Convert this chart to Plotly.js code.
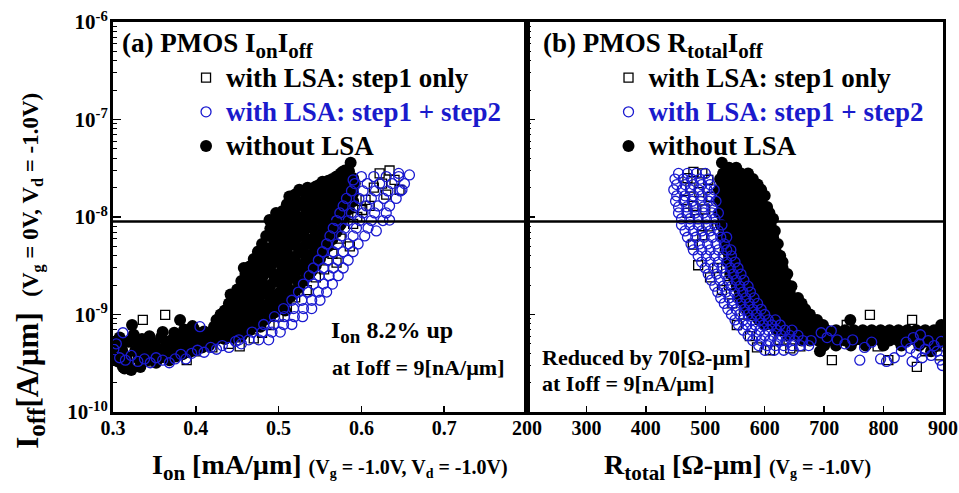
<!DOCTYPE html>
<html>
<head>
<meta charset="utf-8">
<script src="https://cdn.plot.ly/plotly-3.0.1.min.js"></script>
<style>
  html, body { margin: 0; padding: 0; background: #ffffff; }
  #chart { width: 959px; height: 493px; }
</style>
</head>
<body>
<div id="chart"></div>
<script>
// ================= (a) Ion [mA/um] vs Ioff [A/um] =================
// without LSA: low-Ion tail and scattered points, as [Ion, Ioff] pairs
const noLsaTailA = [
  [0.302,4.0e-10],[0.306,3.3e-10],[0.309,4.8e-10],[0.312,2.9e-10],[0.316,3.7e-10],[0.319,5.3e-10],[0.322,2.7e-10],[0.323,7.8e-10],
  [0.327,4.3e-10],[0.331,3.5e-10],[0.335,5.6e-10],[0.338,4.0e-10],[0.342,4.7e-10],[0.346,3.8e-10],[0.350,5.0e-10],[0.354,4.3e-10],
  [0.358,5.8e-10],[0.362,4.6e-10],[0.366,4.0e-10],[0.370,5.4e-10],[0.374,6.5e-10],[0.378,4.8e-10],[0.381,8.8e-10],[0.382,5.6e-10],
  [0.386,4.4e-10],[0.390,5.1e-10],[0.394,6.3e-10],[0.398,7.0e-10],[0.402,4.9e-10],[0.406,5.9e-10],[0.410,6.7e-10],[0.414,5.3e-10],
  [0.418,6.1e-10],[0.422,7.5e-10],[0.304,5.2e-10],[0.311,4.3e-10],[0.318,3.2e-10],[0.326,5.5e-10],[0.334,4.6e-10],[0.341,3.4e-10],
  [0.349,4.0e-10],[0.357,3.6e-10],[0.365,5.2e-10],[0.373,4.2e-10],[0.380,5.6e-10],[0.388,6.0e-10],[0.396,5.4e-10],[0.404,6.2e-10],
  [0.412,5.8e-10],[0.420,6.6e-10],[0.300,3.6e-10],[0.308,5.8e-10],[0.314,2.8e-10],[0.325,6.2e-10],[0.333,2.9e-10],[0.344,6.0e-10],
  [0.352,3.2e-10],[0.360,6.6e-10],[0.368,3.4e-10],[0.376,3.7e-10],[0.384,3.9e-10],[0.392,4.1e-10],[0.400,4.3e-10],[0.408,4.6e-10],
  [0.416,4.8e-10],[0.396,7.6e-10],[0.386,7.0e-10],[0.489,9.3e-9],[0.587,3.6e-8],[0.513,1.62e-8],[0.553,2.3e-8],[0.546,1.95e-8],
  [0.577,2.9e-8],[0.592,2.2e-8],[0.497,1.1e-8],[0.458,3.0e-9],[0.442,1.6e-9],[0.478,7.5e-10],[0.508,1.1e-9],
  [0.462,7.6e-10],[0.463,1.2e-9],[0.461,2.1e-9],[0.473,8.9e-10],[0.471,1.5e-9],[0.474,2.2e-9],[0.472,3.0e-9],[0.483,1.0e-9],
  [0.481,1.9e-9],[0.484,2.9e-9],[0.482,4.5e-9],[0.493,1.2e-9],[0.491,1.6e-9],[0.494,2.6e-9],[0.492,3.8e-9],[0.493,6.2e-9],
  [0.503,1.4e-9],[0.502,2.1e-9],[0.504,3.1e-9],[0.501,4.5e-9],[0.503,6.1e-9],[0.502,9.1e-9],[0.513,1.7e-9],[0.512,2.5e-9],
  [0.514,3.8e-9],[0.511,5.5e-9],[0.513,7.7e-9],[0.512,1.15e-8],[0.523,2.2e-9],[0.521,3.1e-9],[0.524,4.8e-9],[0.522,6.9e-9],
  [0.523,1.0e-8],[0.521,1.45e-8],[0.533,2.7e-9],[0.532,4.1e-9],[0.534,5.8e-9],[0.531,8.5e-9],[0.533,1.22e-8],[0.543,3.4e-9],
  [0.542,5.1e-9],[0.544,7.3e-9],[0.541,1.0e-8],[0.543,1.4e-8],[0.553,4.5e-9],[0.552,6.4e-9],[0.554,8.7e-9],[0.551,1.22e-8],
  [0.553,1.6e-8],[0.563,5.9e-9],[0.562,8.0e-9],[0.564,1.05e-8],[0.561,1.4e-8],[0.563,1.8e-8],[0.573,8.0e-9],[0.572,1.03e-8],
  [0.574,1.3e-8],[0.571,1.65e-8],[0.573,2.05e-8],[0.452,7.2e-10],[0.453,1.15e-9],[0.443,8.8e-10],[0.447,1.3e-9]
];
// without LSA: rising part, each entry is [Ion, [Ioff values read at that Ion]]
const noLsaRiseA = [
  [0.425,[5.6e-10,7.0e-10,8.8e-10]],
  [0.430,[6.2e-10,7.8e-10,1.0e-9]],
  [0.435,[5.6e-10,6.9e-10,8.6e-10,1.1e-9]],
  [0.440,[6.2e-10,7.8e-10,9.8e-10,1.3e-9]],
  [0.445,[5.8e-10,7.0e-10,8.8e-10,1.15e-9,1.55e-9]],
  [0.450,[6.4e-10,7.9e-10,1.0e-9,1.35e-9,1.8e-9]],
  [0.455,[6.0e-10,7.2e-10,9.0e-10,1.2e-9,1.6e-9,2.2e-9]],
  [0.460,[6.6e-10,8.2e-10,1.05e-9,1.4e-9,1.9e-9,2.6e-9]],
  [0.465,[6.9e-10,8.8e-10,1.15e-9,1.6e-9,2.2e-9,3.1e-9]],
  [0.470,[7.5e-10,9.8e-10,1.3e-9,1.8e-9,2.6e-9,3.7e-9]],
  [0.475,[7.8e-10,1.05e-9,1.45e-9,2.05e-9,3.0e-9,4.4e-9]],
  [0.480,[8.4e-10,1.15e-9,1.6e-9,2.35e-9,3.5e-9,5.3e-9]],
  [0.485,[9.0e-10,1.25e-9,1.8e-9,2.7e-9,4.1e-9,6.4e-9]],
  [0.490,[9.6e-10,1.35e-9,2.0e-9,3.1e-9,4.8e-9,7.6e-9]],
  [0.495,[1.05e-9,1.5e-9,2.3e-9,3.6e-9,5.6e-9,9.0e-9]],
  [0.500,[1.15e-9,1.65e-9,2.5e-9,3.6e-9,5.3e-9,7.6e-9,1.05e-8]],
  [0.505,[1.25e-9,1.8e-9,2.7e-9,3.9e-9,5.6e-9,8.0e-9,1.15e-8]],
  [0.510,[1.4e-9,2.0e-9,3.1e-9,4.4e-9,6.6e-9,9.4e-9,1.35e-8]],
  [0.515,[1.55e-9,2.4e-9,3.5e-9,5.2e-9,7.4e-9,1.05e-8,1.55e-8]],
  [0.520,[1.75e-9,2.6e-9,3.9e-9,5.7e-9,8.2e-9,1.2e-8,1.7e-8]],
  [0.525,[1.9e-9,2.9e-9,4.4e-9,6.4e-9,9.3e-9,1.35e-8,1.9e-8]],
  [0.530,[2.2e-9,3.3e-9,4.9e-9,7.1e-9,1.0e-8,1.45e-8,1.85e-8]],
  [0.535,[2.45e-9,3.6e-9,5.4e-9,7.8e-9,1.1e-8,1.5e-8,2.0e-8]],
  [0.540,[2.8e-9,4.1e-9,6.0e-9,8.6e-9,1.2e-8,1.6e-8,1.8e-8]],
  [0.545,[3.2e-9,4.6e-9,6.7e-9,9.5e-9,1.3e-8,1.7e-8,2.05e-8]],
  [0.550,[3.7e-9,5.3e-9,7.4e-9,1.04e-8,1.4e-8,1.8e-8,2.15e-8]],
  [0.555,[4.3e-9,6.0e-9,8.3e-9,1.12e-8,1.5e-8,1.95e-8,2.2e-8]],
  [0.560,[5.0e-9,6.8e-9,9.2e-9,1.22e-8,1.6e-8,2.05e-8,2.35e-8]],
  [0.565,[5.9e-9,7.8e-9,1.02e-8,1.33e-8,1.7e-8,2.15e-8,2.45e-8]],
  [0.570,[7.0e-9,9.0e-9,1.15e-8,1.45e-8,1.85e-8,2.3e-8,2.6e-8]],
  [0.575,[8.4e-9,1.05e-8,1.3e-8,1.6e-8,2.0e-8,2.45e-8,2.8e-8]],
  [0.580,[1.0e-8,1.22e-8,1.5e-8,1.8e-8,2.2e-8,2.7e-8,3.0e-8]],
  [0.585,[1.2e-8,1.45e-8,1.75e-8,2.1e-8,2.5e-8,2.95e-8]],
  [0.590,[1.45e-8,1.75e-8,2.1e-8,2.5e-8]]
];

// with LSA: step1 only, [Ion, Ioff]
const step1A = [
  [0.310,3.5e-10],[0.320,4.2e-10],[0.330,3.8e-10],[0.336,8.8e-10],[0.345,3.3e-10],[0.360,3.6e-10],[0.363,9.9e-10],[0.375,4.0e-10],
  [0.389,3.4e-10],[0.400,4.2e-10],[0.420,4.6e-10],[0.440,5.0e-10],[0.453,4.7e-10],[0.470,5.7e-10],[0.480,6.5e-10],[0.489,7.8e-10],
  [0.500,9.5e-10],[0.510,1.2e-9],[0.520,1.5e-9],[0.534,1.78e-9],[0.545,2.4e-9],[0.555,2.9e-9],[0.565,4.2e-9],[0.570,3.4e-9],
  [0.575,6.0e-9],[0.586,5.0e-9],[0.590,8.5e-9],[0.595,1.0e-8],[0.601,1.18e-8],[0.605,1.5e-8],[0.610,1.3e-8],[0.615,2.0e-8],
  [0.622,2.8e-8],[0.625,2.2e-8],[0.630,1.7e-8],[0.634,3.0e-8],[0.640,2.4e-8],[0.646,1.9e-8]
];

// with LSA: step1 + step2, low-Ion tail and outliers, [Ion, Ioff]
const step12TailA = [
  [0.301,4.4e-10],[0.304,5.0e-10],[0.308,3.6e-10],[0.312,6.5e-10],[0.315,3.4e-10],[0.322,3.8e-10],[0.330,3.3e-10],[0.338,3.5e-10],
  [0.345,3.2e-10],[0.352,3.6e-10],[0.360,3.4e-10],[0.368,3.2e-10],[0.375,3.5e-10],[0.382,3.9e-10],[0.388,3.5e-10],[0.395,4.0e-10],
  [0.402,4.3e-10],[0.405,7.5e-10],[0.410,4.1e-10],[0.418,4.6e-10],[0.425,4.4e-10],[0.432,4.8e-10],[0.440,4.6e-10],[0.448,5.3e-10],
  [0.455,5.0e-10],[0.618,7.2e-9],[0.634,9.3e-9],[0.649,1.9e-8],[0.645,2.8e-8],[0.658,2.7e-8],[0.590,2.4e-8]
];
// with LSA: step1 + step2, rising part, each entry is [Ioff, [Ion values read at that Ioff]]
const step12RiseA = [
  [2.6e-8,[0.600,0.615,0.630,0.645]],
  [2.2e-8,[0.592,0.607,0.622,0.637,0.652]],
  [1.85e-8,[0.588,0.602,0.617,0.632,0.647]],
  [1.55e-8,[0.582,0.597,0.612,0.627,0.642]],
  [1.3e-8,[0.578,0.592,0.606,0.620,0.634]],
  [1.1e-8,[0.574,0.588,0.602,0.616,0.630]],
  [9.2e-9,[0.570,0.584,0.598,0.612,0.626]],
  [7.7e-9,[0.566,0.580,0.594,0.608]],
  [6.4e-9,[0.562,0.576,0.590,0.604]],
  [5.3e-9,[0.558,0.571,0.584,0.596]],
  [4.4e-9,[0.553,0.566,0.578,0.590]],
  [3.6e-9,[0.548,0.560,0.572,0.584]],
  [3.0e-9,[0.542,0.554,0.566,0.578]],
  [2.5e-9,[0.537,0.549,0.561,0.572]],
  [2.05e-9,[0.530,0.542,0.554,0.565]],
  [1.7e-9,[0.524,0.536,0.548,0.558]],
  [1.4e-9,[0.516,0.528,0.540,0.550]],
  [1.15e-9,[0.506,0.518,0.530,0.540]],
  [9.5e-10,[0.495,0.507,0.519,0.529]],
  [7.9e-10,[0.482,0.494,0.506,0.516]],
  [6.6e-10,[0.468,0.480,0.492,0.502]],
  [5.5e-10,[0.452,0.464,0.476,0.488]]
];

// ================= (b) Rtotal [ohm-um] vs Ioff [A/um] =================
// without LSA, each entry is [Ioff, [Rtotal values read at that Ioff]]
const noLsaRowsB = [
  [3.6e-8,[528]],
  [3.2e-8,[540,552]],
  [2.8e-8,[530,545,560,572]],
  [2.45e-8,[525,538,552,566,580]],
  [2.15e-8,[530,545,559,573,588]],
  [1.9e-8,[523,537,551,565,579,594]],
  [1.65e-8,[530,544,558,572,586,600]],
  [1.45e-8,[524,538,552,566,580,594]],
  [1.27e-8,[530,545,560,575,590,604]],
  [1.1e-8,[524,538,552,566,580,595,608]],
  [9.6e-9,[530,545,560,575,590,605,614]],
  [8.3e-9,[526,540,554,568,582,596,610]],
  [7.2e-9,[532,547,562,577,592,606,617]],
  [6.2e-9,[530,544,558,572,586,600,614]],
  [5.3e-9,[536,550,565,580,595,610,622]],
  [4.6e-9,[534,548,562,576,590,604,618]],
  [4.0e-9,[540,554,568,582,596,611,626]],
  [3.45e-9,[538,552,566,580,594,608,622,630]],
  [3.0e-9,[544,558,572,586,600,615,630]],
  [2.6e-9,[542,556,570,584,598,612,626,638]],
  [2.25e-9,[550,564,578,592,606,620,634]],
  [1.95e-9,[553,567,581,595,609,623,637,645]],
  [1.7e-9,[558,572,586,600,614,628,642]],
  [1.48e-9,[558,572,586,600,614,628,642,656]],
  [1.3e-9,[565,579,593,607,621,635,649,662]],
  [1.13e-9,[570,584,598,612,626,640,654,668]],
  [1.0e-9,[578,592,606,620,634,648,662,676]],
  [8.8e-10,[590,604,618,632,646,660,674,688,744]],
  [7.8e-10,[600,614,628,642,656,670,684,698,897]],
  [6.9e-10,[620,634,648,662,676,690,704,720,735,750,765,780,795,810,825,840,855,870,885,898]],
  [6.1e-10,[640,655,670,685,700,714,728,742,756,770,784,798,812,826,840,854,868,882,896]],
  [5.4e-10,[662,676,690,705,720,735,750,765,780,795,810,825,840,855,870,885,898]],
  [4.8e-10,[700,720,745,770,800,830,860,890]],
  [4.2e-10,[693,880]]
];

// with LSA: step1 only, [Rtotal, Ioff]
const step1B = [
  [480,2.9e-8],[495,2.8e-8],[470,2.5e-8],[505,2.4e-8],[475,2.0e-8],[490,1.8e-8],[510,1.6e-8],[465,1.5e-8],[480,1.3e-8],
  [500,1.2e-8],[470,1.1e-8],[488,9.5e-9],[505,8.0e-9],[495,6.5e-9],[479,5.2e-9],[488,3.2e-9],[508,2.4e-9],[528,1.78e-9],
  [520,3.0e-9],[540,2.0e-9],[545,1.3e-9],[553,7.8e-10],[565,1.0e-9],[575,6.0e-10],[587,4.6e-10],[609,4.3e-10],[625,5.5e-10],
  [643,4.5e-10],[660,4.7e-10],[690,6.0e-10],[713,3.4e-10],[738,7.8e-10],[777,9.9e-10],[760,5.5e-10],[790,4.7e-10],[808,3.4e-10],
  [833,5.9e-10],[848,8.8e-10],[856,2.9e-10],[870,4.2e-10],[883,4.7e-10],[895,3.8e-10]
];

// with LSA: step1 + step2, each entry is [Ioff, [Rtotal values read at that Ioff]]
const step12RowsB = [
  [2.8e-8,[455,470,485,500]],
  [2.45e-8,[449,463,477,491,505]],
  [2.15e-8,[452,466,480,494,508]],
  [1.9e-8,[447,461,475,489,503,515]],
  [1.65e-8,[452,466,480,494,508]],
  [1.45e-8,[450,464,478,492,506,518]],
  [1.27e-8,[455,469,483,497,511]],
  [1.1e-8,[455,469,483,497,511,522]],
  [9.6e-9,[460,474,488,502,516]],
  [8.3e-9,[460,474,488,502,516,528]],
  [7.2e-9,[466,480,494,508,522]],
  [6.2e-9,[470,484,498,512,526,536]],
  [5.3e-9,[476,490,504,518,532]],
  [4.6e-9,[480,494,508,522,536,543]],
  [4.0e-9,[488,502,516,530,544]],
  [3.45e-9,[494,508,522,536,550]],
  [3.0e-9,[500,514,528,542,555]],
  [2.6e-9,[505,519,533,547,560]],
  [2.25e-9,[510,524,538,552,565]],
  [1.95e-9,[516,530,544,558,572]],
  [1.7e-9,[521,535,549,563,576]],
  [1.48e-9,[526,540,554,568,582]],
  [1.3e-9,[532,546,560,574,588]],
  [1.13e-9,[538,552,566,580,594]],
  [1.0e-9,[544,558,572,586,600]],
  [8.8e-10,[550,564,578,592,606,618]],
  [7.8e-10,[556,570,584,598,612,626]],
  [6.9e-10,[564,578,592,606,620,634,646]],
  [6.1e-10,[572,586,600,614,628,642,656]],
  [5.4e-10,[580,594,608,622,636,650,664,678]],
  [4.8e-10,[590,604,618,632,646,660,674]],
  [4.3e-10,[600,616,632,648]]
];
// with LSA: step1 + step2, high-Rtotal tail, [Rtotal, Ioff]
const step12TailB = [
  [695,6.5e-10],[705,5.8e-10],[712,6.8e-10],[722,5.5e-10],[735,5.0e-10],[748,5.5e-10],[760,3.4e-10],[768,4.6e-10],[780,5.2e-10],
  [795,3.5e-10],[805,3.3e-10],[818,3.6e-10],[830,4.2e-10],[838,5.2e-10],[845,4.5e-10],[850,5.8e-10],[855,4.0e-10],[860,5.0e-10],
  [865,3.6e-10],[870,4.4e-10],[875,5.4e-10],[880,3.8e-10],[885,4.8e-10],[890,4.2e-10],[895,3.4e-10],[897,5.3e-10],[899,3.0e-10],
  [862,6.2e-10],[848,3.3e-10]
];

// Off-current target used for the comparison (9 nA/um)
const ioffTarget = 9e-9;

const ionTicks = [0.3, 0.4, 0.5, 0.6, 0.7];
const rTicks = [200, 300, 400, 500, 600, 700, 800, 900];
const ioffTicks = [1e-10, 1e-9, 1e-8, 1e-7, 1e-6];
const ioffTickText = ['10<sup>-10</sup>', '10<sup>-9</sup>', '10<sup>-8</sup>', '10<sup>-7</sup>', '10<sup>-6</sup>'];

const seriesNames = [
  "<span style='font-size:27px'>with LSA: step1 only</span>",
  "<span style='font-size:27px;color:#1a1acc'>with LSA: step1 + step2</span>",
  "<span style='font-size:27px'>without LSA</span>"
];

// ---------- helpers to unpack the readings ----------
const pairsX = (p) => p.map(d => d[0]);
const pairsY = (p) => p.map(d => d[1]);
function columns(cols) {           // [x, [y...]] -> flat x / y
  const x = [], y = [];
  cols.forEach(([cx, ys]) => ys.forEach(v => { x.push(cx); y.push(v); }));
  return { x, y };
}
function rows(rs) {                // [y, [x...]] -> flat x / y
  const x = [], y = [];
  rs.forEach(([ry, xs]) => xs.forEach(v => { x.push(v); y.push(ry); }));
  return { x, y };
}

const riseA = columns(noLsaRiseA);
const blackAx = pairsX(noLsaTailA).concat(riseA.x);
const blackAy = pairsY(noLsaTailA).concat(riseA.y);
const blueRiseA = rows(step12RiseA);
const blueAx = pairsX(step12TailA).concat(blueRiseA.x);
const blueAy = pairsY(step12TailA).concat(blueRiseA.y);

const blackB = rows(noLsaRowsB);
const blueRowsB = rows(step12RowsB);
const blueBx = blueRowsB.x.concat(pairsX(step12TailB));
const blueBy = blueRowsB.y.concat(pairsY(step12TailB));

// ---------- styling ----------
const SERIF = 'Liberation Serif, Times New Roman, serif';
const BLUE = '#1a1ad0';

// minor tick positions 2..9 inside each decade
const minorVals = [];
for (let e = -10; e < -6; e++) {
  for (let k = 2; k <= 9; k++) minorVals.push(k * Math.pow(10, e));
}

function squares(x, y, xa, ya, leg) {
  return { x, y, xaxis: xa, yaxis: ya, type: 'scatter', mode: 'markers',
    name: seriesNames[0], legend: leg, legendrank: 1,
    marker: { symbol: 'square-open', size: 9, color: '#000', line: { width: 1.3, color: '#000' } } };
}
function circles(x, y, xa, ya, leg) {
  return { x, y, xaxis: xa, yaxis: ya, type: 'scatter', mode: 'markers',
    name: seriesNames[1], legend: leg, legendrank: 2,
    marker: { symbol: 'circle-open', size: 10, color: BLUE, line: { width: 1.3, color: BLUE } } };
}
function dots(x, y, xa, ya, leg) {
  return { x, y, xaxis: xa, yaxis: ya, type: 'scatter', mode: 'markers',
    name: seriesNames[2], legend: leg, legendrank: 3,
    marker: { symbol: 'circle', size: 12, color: '#000', line: { width: 0 } } };
}

const data = [
  dots(blackAx, blackAy, 'x', 'y', 'legend'),
  squares(pairsX(step1A), pairsY(step1A), 'x', 'y', 'legend'),
  circles(blueAx, blueAy, 'x', 'y', 'legend'),
  dots(blackB.x, blackB.y, 'x2', 'y2', 'legend2'),
  squares(pairsX(step1B), pairsY(step1B), 'x2', 'y2', 'legend2'),
  circles(blueBx, blueBy, 'x2', 'y2', 'legend2')
];

const tickFont = { family: SERIF, size: 20, color: '#000', weight: 'bold' };
const SPLIT = 0.4988;

const xCommon = {
  showline: true, mirror: true, linewidth: 3, linecolor: '#000',
  ticks: 'inside', ticklen: 6, tickwidth: 1.5, tickcolor: '#000', ticklabelstandoff: -4,
  showgrid: false, zeroline: false, tickfont: tickFont, tickmode: 'array'
};
const yCommon = {
  type: 'log', range: [-10, -6], showline: true, mirror: true, linewidth: 3, linecolor: '#000',
  ticks: 'inside', ticklen: 8, tickwidth: 1.5, tickcolor: '#000', ticklabelstandoff: -2,
  showgrid: false, zeroline: false, tickmode: 'array', tickvals: ioffTicks, ticktext: ioffTickText,
  tickfont: { family: SERIF, size: 21, color: '#000', weight: 'bold' },
  minor: { tickmode: 'array', tickvals: minorVals, ticks: 'inside', ticklen: 4, tickwidth: 1, tickcolor: '#000', showgrid: false }
};

const legendCommon = {
  bgcolor: 'rgba(0,0,0,0)', borderwidth: 0, xanchor: 'left', yanchor: 'top',
  font: { family: SERIF, size: 24, color: '#000', weight: 'bold' },
  traceorder: 'normal', itemclick: false, itemdoubleclick: false
};

const ann = (o) => Object.assign({ showarrow: false, xanchor: 'left', yanchor: 'middle',
  font: { family: SERIF, size: 22, color: '#000', weight: 'bold' } }, o);
const titleFont = { family: SERIF, size: 27, color: '#000', weight: 'bold' };
const SUB = (t, s) => "<sub><span style='font-size:" + s + "px'>" + t + "</span></sub>";

const layout = {
  width: 959, height: 493,
  margin: { l: 113, r: 16, t: 22, b: 81 },
  paper_bgcolor: '#fff', plot_bgcolor: '#fff',
  showlegend: true,
  xaxis: Object.assign({}, xCommon, { domain: [0, SPLIT], range: [0.3, 0.8], tickvals: ionTicks, anchor: 'y' }),
  xaxis2: Object.assign({}, xCommon, { domain: [SPLIT, 1], range: [200, 900], tickvals: rTicks, anchor: 'y2' }),
  yaxis: Object.assign({}, yCommon, { anchor: 'x' }),
  yaxis2: Object.assign({}, yCommon, { anchor: 'x2', showticklabels: false }),
  legend: Object.assign({}, legendCommon, { x: 0.088, y: 0.914 }),
  legend2: Object.assign({}, legendCommon, { x: 0.597, y: 0.914 }),
  shapes: [{
    type: 'line', xref: 'paper', yref: 'y', x0: 0, x1: 1, y0: ioffTarget, y1: ioffTarget,
    line: { color: '#000', width: 2.5 }
  }],
  annotations: [
    ann({ xref: 'x domain', yref: 'y domain', x: 0.016, y: 0.99, yanchor: 'top',
      text: '(a) PMOS I' + SUB('on', 21) + 'I' + SUB('off', 21), font: titleFont }),
    ann({ xref: 'x2 domain', yref: 'y2 domain', x: 0.034, y: 0.99, yanchor: 'top',
      text: '(b) PMOS R' + SUB('total', 21) + 'I' + SUB('off', 21), font: titleFont }),
    ann({ xref: 'x domain', yref: 'y domain', x: 0.522, y: 0.205, text: 'I' + SUB('on', 19) + ' 8.2% up',
      font: { family: SERIF, size: 24, color: '#000', weight: 'bold' } }),
    ann({ xref: 'x domain', yref: 'y domain', x: 0.524, y: 0.113, text: 'at Ioff = 9[nA/µm]' }),
    ann({ xref: 'x2 domain', yref: 'y2 domain', x: 0.031, y: 0.141, text: 'Reduced by 70[Ω-µm]' }),
    ann({ xref: 'x2 domain', yref: 'y2 domain', x: 0.031, y: 0.074, text: 'at Ioff = 9[nA/µm]' }),
    // axis titles
    ann({ xref: 'paper', yref: 'paper', x: 0.2614, y: -0.14, xanchor: 'center',
      font: { family: SERIF, size: 28, color: '#000', weight: 'bold' },
      text: "I" + SUB('on', 21) + " [mA/µm] <span style='font-size:20px'>(V<sub>g</sub> = -1.0V, V<sub>d</sub> = -1.0V)</span>" }),
    ann({ xref: 'paper', yref: 'paper', x: 0.752, y: -0.14, xanchor: 'center',
      font: { family: SERIF, size: 28, color: '#000', weight: 'bold' },
      text: "R" + SUB('total', 21) + " [Ω-µm] <span style='font-size:20px'>(V<sub>g</sub> = -1.0V)</span>" }),
    ann({ xref: 'paper', yref: 'paper', x: -0.1, y: 0.362, xanchor: 'center', textangle: -90,
      font: { family: SERIF, size: 31, color: '#000', weight: 'bold' },
      text: "I" + SUB('off', 25) + "[A/µm]&nbsp; <span style='font-size:23px'>(V<sub>g</sub> = 0V, V<sub>d</sub> = -1.0V)</span>" })
  ]
};

Plotly.newPlot('chart', data, layout, { displayModeBar: false, staticPlot: true });
</script>
</body>
</html>
